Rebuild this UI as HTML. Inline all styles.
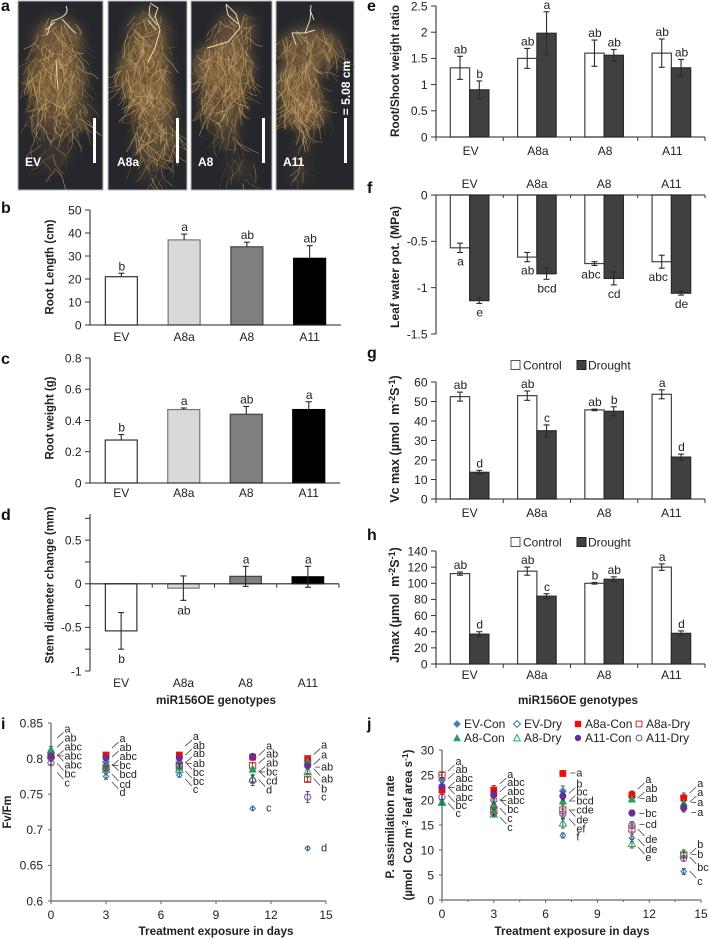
<!DOCTYPE html>
<html lang="en">
<head>
<meta charset="utf-8">
<title>miR156OE root and physiology figure</title>
<style>
html,body{margin:0;padding:0;background:#fff;}
svg{display:block;filter:blur(0.35px);}
text{font-family:"Liberation Sans",Arial,sans-serif;fill:#222;}
.tl{font-size:12px;}
.yt{font-size:11.5px;font-weight:bold;text-anchor:middle;}
.pl{font-size:16px;font-weight:bold;fill:#111;}
.ph{font-size:12px;font-weight:bold;fill:#fff;}
</style>
</head>
<body>
<svg id="fig" xmlns="http://www.w3.org/2000/svg" width="709" height="939" viewBox="0 0 709 939">
  <rect x="0" y="0" width="709" height="939" fill="#fff"/>
  <defs>
    <filter id="soft" x="-30%" y="-30%" width="160%" height="160%"><feGaussianBlur stdDeviation="6"/></filter>
    <clipPath id="cp0"><rect x="18" y="1" width="85" height="189"/></clipPath>
    <clipPath id="cp1"><rect x="108" y="1" width="79" height="189"/></clipPath>
    <clipPath id="cp2"><rect x="191" y="1" width="81" height="189"/></clipPath>
    <clipPath id="cp3"><rect x="276" y="1" width="78" height="189"/></clipPath>
  </defs>

  <g id="photos"></g>

  <text class="pl" x="1" y="11">a</text>
  <text class="pl" x="1" y="213">b</text>
  <text class="pl" x="1" y="364">c</text>
  <text class="pl" x="1" y="520">d</text>
  <text class="pl" x="367" y="11">e</text>
  <text class="pl" x="367" y="193">f</text>
  <text class="pl" x="367" y="358">g</text>
  <text class="pl" x="367" y="540">h</text>
  <text class="pl" x="1" y="729">i</text>
  <text class="pl" x="367" y="729">j</text>

  <text class="yt" textLength="95" lengthAdjust="spacingAndGlyphs" transform="translate(53.5,267) rotate(-90)">Root Length (cm)</text>
  <text class="yt" textLength="83" lengthAdjust="spacingAndGlyphs" transform="translate(53.5,418) rotate(-90)">Root weight (g)</text>
  <text class="yt" textLength="157" lengthAdjust="spacingAndGlyphs" transform="translate(53.5,585) rotate(-90)">Stem diameter change (mm)</text>
  <text class="yt" textLength="132" lengthAdjust="spacingAndGlyphs" transform="translate(399,71) rotate(-90)">Root/Shoot weight ratio</text>
  <text class="yt" textLength="122" lengthAdjust="spacingAndGlyphs" transform="translate(399,267) rotate(-90)">Leaf water pot. (MPa)</text>
  <text class="yt" style="font-size:12.5px" transform="translate(399,439) rotate(-90)">Vc max (µmol&#160;&#160;m<tspan dy="-4" font-size="9">-2</tspan><tspan dy="4">S</tspan><tspan dy="-4" font-size="9">-1</tspan><tspan dy="4">)</tspan></text>
  <text class="yt" style="font-size:12.5px" transform="translate(399,605) rotate(-90)">Jmax (µmol&#160;&#160;m<tspan dy="-4" font-size="9">-2</tspan><tspan dy="4">S</tspan><tspan dy="-4" font-size="9">-1</tspan><tspan dy="4">)</tspan></text>
  <text class="yt" textLength="33" lengthAdjust="spacingAndGlyphs" transform="translate(11,812) rotate(-90)">Fv/Fm</text>
  <text class="yt" textLength="103" lengthAdjust="spacingAndGlyphs" transform="translate(394,827) rotate(-90)">P. assimilation rate</text>
  <text class="yt" transform="translate(412,825) rotate(-90)">(µmol&#160;&#160;Co2 m<tspan dy="-4" font-size="8.5">-2</tspan><tspan dy="4"> leaf area s</tspan><tspan dy="-4" font-size="8.5">-1</tspan><tspan dy="4">)</tspan></text>

  <text class="yt" x="216" y="704" textLength="120" lengthAdjust="spacingAndGlyphs">miR156OE genotypes</text>
  <text class="yt" x="578" y="704" textLength="120" lengthAdjust="spacingAndGlyphs">miR156OE genotypes</text>
  <text class="yt" x="216" y="935" textLength="155" lengthAdjust="spacingAndGlyphs">Treatment exposure in days</text>
  <text class="yt" x="572" y="935" textLength="155" lengthAdjust="spacingAndGlyphs">Treatment exposure in days</text>

  <g id="charts"></g>
</svg>

<script>
/* ---------- bar chart data ---------- */
const categories = ['EV', 'A8a', 'A8', 'A11'];

const rootLength = [21, 37, 34, 29];
const rootLengthErr = [1.5, 2.5, 2, 5.5];
const rootLengthLetters = ['b', 'a', 'ab', 'ab'];
const rootLengthTicks = [0, 10, 20, 30, 40, 50];
const rootLengthTickLabels = ['0', '10', '20', '30', '40', '50'];

const rootWeight = [0.275, 0.47, 0.44, 0.47];
const rootWeightErr = [0.035, 0.01, 0.05, 0.05];
const rootWeightLetters = ['b', 'a', 'ab', 'a'];
const rootWeightTicks = [0, 0.2, 0.4, 0.6, 0.8];
const rootWeightTickLabels = ['0', '0.2', '0.4', '0.6', '0.8'];

const stemChange = [-0.54, -0.05, 0.085, 0.08];
const stemChangeErr = [0.21, 0.14, 0.115, 0.12];
const stemChangeLetters = ['b', 'ab', 'a', 'a'];
const stemTicks = [-1, -0.75, -0.5, -0.25, 0, 0.25, 0.5, 0.75];
const stemTickLabels = ['-1', '', '-0.5', '', '0', '', '0.5', ''];

const ratioControl = [1.32, 1.5, 1.6, 1.6];
const ratioControlErr = [0.22, 0.19, 0.25, 0.27];
const ratioControlLetters = ['ab', 'ab', 'ab', 'ab'];
const ratioDrought = [0.9, 1.98, 1.56, 1.32];
const ratioDroughtErr = [0.17, 0.41, 0.11, 0.16];
const ratioDroughtLetters = ['b', 'a', 'ab', 'ab'];
const ratioTicks = [0, 0.5, 1, 1.5, 2, 2.5];
const ratioTickLabels = ['0', '0.5', '1', '1.5', '2', '2.5'];

const waterControl = [-0.57, -0.67, -0.74, -0.72];
const waterControlErr = [0.05, 0.05, 0.02, 0.07];
const waterControlLetters = ['a', 'ab', 'abc', 'abc'];
const waterDrought = [-1.14, -0.85, -0.9, -1.06];
const waterDroughtErr = [0.03, 0.06, 0.07, 0.02];
const waterDroughtLetters = ['e', 'bcd', 'cd', 'de'];
const waterTicks = [-1.5, -1, -0.5, 0];
const waterTickLabels = ['-1.5', '-1', '-0.5', '0'];

const vcControl = [52.5, 53, 45.7, 53.7];
const vcControlErr = [2.3, 2.4, 0.4, 2.3];
const vcControlLetters = ['ab', 'ab', 'ab', 'a'];
const vcDrought = [13.7, 35, 45, 21.5];
const vcDroughtErr = [1, 3, 2.3, 1.5];
const vcDroughtLetters = ['d', 'c', 'b', 'd'];
const vcTicks = [0, 10, 20, 30, 40, 50, 60];
const vcTickLabels = ['0', '10', '20', '30', '40', '50', '60'];

const jmaxControl = [112, 115, 100, 120];
const jmaxControlErr = [2, 5, 1, 4];
const jmaxControlLetters = ['ab', 'ab', 'b', 'a'];
const jmaxDrought = [37, 84, 105, 38];
const jmaxDroughtErr = [3, 3, 3, 3];
const jmaxDroughtLetters = ['d', 'c', 'ab', 'd'];
const jmaxTicks = [0, 20, 40, 60, 80, 100, 120, 140];
const jmaxTickLabels = ['0', '20', '40', '60', '80', '100', '120', '140'];

/* ---------- scatter chart data ---------- */
const days = [0, 3, 7, 11, 14];
const dayTicks = [0, 3, 6, 9, 12, 15];
const seriesNames = ['EV-Con', 'EV-Dry', 'A8a-Con', 'A8a-Dry', 'A8-Con', 'A8-Dry', 'A11-Con', 'A11-Dry'];

const fvEvCon  = [0.800, 0.795, 0.795, 0.801, 0.795];
const fvEvDry  = [0.802, 0.775, 0.777, 0.730, 0.674];
const fvA8aCon = [0.805, 0.805, 0.805, 0.802, 0.800];
const fvA8aDry = [0.804, 0.787, 0.790, 0.790, 0.771];
const fvA8Con  = [0.813, 0.790, 0.788, 0.785, 0.796];
const fvA8Dry  = [0.806, 0.785, 0.785, 0.772, 0.782];
const fvA11Con = [0.803, 0.801, 0.801, 0.803, 0.790];
const fvA11Dry = [0.794, 0.787, 0.790, 0.769, 0.746];
const fvEvConErr  = [0.003, 0.003, 0.003, 0.003, 0.003];
const fvEvDryErr  = [0.003, 0.004, 0.003, 0.002, 0.002];
const fvA8aConErr = [0.003, 0.002, 0.002, 0.003, 0.002];
const fvA8aDryErr = [0.003, 0.003, 0.003, 0.004, 0.003];
const fvA8ConErr  = [0.004, 0.003, 0.003, 0.003, 0.002];
const fvA8DryErr  = [0.003, 0.004, 0.004, 0.006, 0.003];
const fvA11ConErr = [0.003, 0.003, 0.003, 0.003, 0.003];
const fvA11DryErr = [0.003, 0.004, 0.004, 0.007, 0.008];
const fvTicks = [0.6, 0.65, 0.7, 0.75, 0.8, 0.85];
const fvTickLabels = ['0.6', '0.65', '0.7', '0.75', '0.8', '0.85'];
const fvLetters = [
  ['a', 'ab', 'abc', 'abc', 'abc', 'bc', 'c'],
  ['a', 'ab', 'abc', 'bc', 'bcd', 'cd', 'd'],
  ['a', 'ab', 'ab', 'ab', 'bc', 'bc', 'c'],
  ['a', 'ab', 'ab', 'bc', 'cd', 'd', 'c'],
  ['a', 'a', 'ab', 'ab', 'b', 'c', 'd']
];

const paEvCon  = [24, 18.5, 21.8, 20.6, 20.6];
const paEvDry  = [22.5, 17.5, 12.9, 12.4, 5.7];
const paA8aCon = [22, 22, 25.3, 21, 20.4];
const paA8aDry = [25, 17.8, 18, 14.2, 9];
const paA8Con  = [19.5, 19.2, 19.8, 20.2, 19.4];
const paA8Dry  = [19.6, 17.2, 15.4, 11.3, 9.4];
const paA11Con = [22.7, 21, 20.8, 17.4, 18.4];
const paA11Dry = [20.6, 20, 17.2, 15, 8.3];
const paEvConErr  = [0.5, 0.6, 1, 1, 0.8];
const paEvDryErr  = [0.6, 0.6, 0.5, 0.8, 0.6];
const paA8aConErr = [0.6, 0.9, 0.4, 0.8, 0.6];
const paA8aDryErr = [0.5, 0.7, 1, 1, 0.5];
const paA8ConErr  = [0.5, 0.6, 0.4, 0.4, 0.5];
const paA8DryErr  = [0.5, 0.5, 1, 0.9, 0.6];
const paA11ConErr = [0.5, 0.8, 0.8, 0.6, 0.8];
const paA11DryErr = [0.5, 0.7, 1, 0.7, 0.5];
const paTicks = [0, 5, 10, 15, 20, 25, 30];
const paTickLabels = ['0', '5', '10', '15', '20', '25', '30'];
const paLetters = [
  ['a', 'ab', 'abc', 'abc', 'abc', 'bc', 'c'],
  ['a', 'abc', 'abc', 'abc', 'bc', 'c', 'c'],
  ['a', 'b', 'bc', 'bcd', 'cde', 'de', 'ef', 'f'],
  ['a', 'ab', 'ab', 'bc', 'cd', 'de', 'de', 'e'],
  ['a', 'a', 'a', 'a', 'b', 'b', 'bc', 'c']
];

/* ---------- annotation layout (not data) ---------- */
const fvLabelOffsets = [[-21,-12,-3,6,15,24,33],[-17,-8,1,10,19,29,37],[-19,-10,-2,8,17,26,34],[-11,-3,6,15,24,33,51],[-14,-4,8,20,30,38,89]];
const fvLeaderDirs = ['uuufddd','uuufddd','uuufddd','uuufddn','uufddnn'];
const paLabelOffsets = [[-14,-6,3,12,22,30,38],[-16,-8,1,10,19,28,37],[-1,10,18,27,36,46,55,63],[-16,-7,3,18,29,44,54,62],[-14,-5,5,15,47,57,70,84]];
const paLeaderDirs = ['uuufddd','uuufddd','fuuffddn','uufffddd','uuffufdd'];
const markStyles = [
  {shape:'diamond', color:'#4a7ebb', open:false, size:1},
  {shape:'diamond', color:'#2e75b6', open:true, size:0.72},
  {shape:'square',  color:'#f20d0d', open:false, size:1},
  {shape:'square',  color:'#c0302c', open:true, size:1},
  {shape:'triangle',color:'#1ea25a', open:false, size:1},
  {shape:'triangle',color:'#2aa866', open:true, size:1},
  {shape:'circle',  color:'#6a2d91', open:false, size:1.05},
  {shape:'circle',  color:'#7a4aa6', open:true, size:1}
];
const NS = 'http://www.w3.org/2000/svg';
const charts = document.getElementById('charts');

function scale(d0, d1, r0, r1) {
  return function (v) { return r0 + (v - d0) * (r1 - r0) / (d1 - d0); };
}
function make(tag, parent, attrs) {
  const el = document.createElementNS(NS, tag);
  for (const k in attrs) el.setAttribute(k, attrs[k]);
  parent.appendChild(el);
  return el;
}
function label(parent, name, x, y, str, anchor, size, weight) {
  const t = make('text', parent, {x: x, y: y, 'text-anchor': anchor || 'middle', 'font-size': size || 12});
  if (weight) t.setAttribute('font-weight', weight);
  t.textContent = str;
  
  
  return t;
}
function stroke(parent, name, x1, y1, x2, y2, color, width) {
  const l = make('line', parent, {x1: x1, y1: y1, x2: x2, y2: y2, stroke: color || '#222', 'stroke-width': width || 1.1});
  
  
  return l;
}

/* ---------- bar panels ---------- */
function drawBars(c) {
  const g = make('g', charts, {});
  
  
  const y = scale(c.domain[0], c.domain[1], c.yBottom, c.yTop);
  const band = (c.x1 - c.x0) / categories.length;
  const zeroY = y(0);
  const pending = [];

  stroke(g, c.name + '-y-axis', c.x0, c.yTop, c.x0, c.yBottom, '#333', 1.1);
  c.ticks.forEach(function (t, i) {
    stroke(g, c.name + '-y-tick', c.x0 - 5, y(t), c.x0, y(t), '#333', 1);
    if (c.tickLabels[i]) label(g, c.name + '-y-tick-label', c.x0 - 8.5, y(t) + 4.3, c.tickLabels[i], 'end', 12);
  });

  c.series.forEach(function (s, si) {
    categories.forEach(function (cat, ci) {
      const center = c.x0 + band * (ci + 0.5);
      const left = c.series.length === 1 ? center - c.barW / 2 : center + (si - 1) * c.barW;
      const v = s.values[ci];
      const top = Math.min(y(v), zeroY);
      const h = Math.abs(y(v) - zeroY);
      const fill = Array.isArray(s.fill) ? s.fill[ci] : s.fill;
      const edge = Array.isArray(s.edge) ? s.edge[ci] : s.edge;
      const r = make('rect', g, {x: left, y: top, width: c.barW, height: h, fill: fill, stroke: edge, 'stroke-width': 1.2});
      
      

      const mid = left + c.barW / 2;
      const e = s.errs[ci];
      const hi = y(v + e);
      const lo = c.upperOnly ? y(v) : y(v - e);
      stroke(g, c.name + '-error-stem', mid, hi, mid, lo, '#2a2a2a', 1.1);
      stroke(g, c.name + '-error-cap', mid - 3, hi, mid + 3, hi, '#2a2a2a', 1.1);
      if (!c.upperOnly) stroke(g, c.name + '-error-cap', mid - 3, lo, mid + 3, lo, '#2a2a2a', 1.1);

      const below = c.lettersBelow || v < c.belowUnder;
      const ly = below ? lo + c.belowGap : hi - 3;
      const shift = (c.lettersBelow && si === 0 && s.letters[ci].length > 2) ? -3.5 : 0.5;
      pending.push([cat, mid + shift, ly, s.letters[ci]]);
    });
  });
  pending.forEach(function (p) {
    label(g, c.name + '-significance-' + p[0], p[1], p[2], p[3], 'middle', 12);
  });

  stroke(g, c.name + '-x-axis', c.x0, zeroY, c.x1, zeroY, '#222', 1.1);
  if (c.xTicks) {
    for (let i = 0; i <= categories.length; i++) {
      const tx = c.x0 + band * i;
      stroke(g, c.name + '-x-tick', tx, zeroY, tx, zeroY + (c.xTicks === 'up' ? 3 : 4), '#333', 1);
    }
  }
  categories.forEach(function (cat, ci) {
    label(g, c.name + '-category-' + cat, c.x0 + band * (ci + 0.5) + (c.catShift || 0), c.catY, cat, 'middle', 12);
  });
  if (c.legendY) {
    [['Control', '#fff', '#555', 511, 523], ['Drought', '#404040', '#222', 577, 588]].forEach(function (l) {
      const lg = make('g', g, {});
      
      
      make('rect', lg, {x: l[3], y: c.legendY - 4.5, width: 9, height: 9, fill: l[1], stroke: l[2], 'stroke-width': 1});
      label(lg, c.name + '-legend-text', l[4], c.legendY + 4.3, l[0], 'start', 12);
    });
  }
}

const singleFill = ['#fff', '#d9d9d9', '#7f7f7f', '#000'];
const singleEdge = ['#333', '#777', '#444', '#000'];

drawBars({name:'root-length', x0:90, x1:341, yTop:210, yBottom:325, domain:[0,50], ticks:rootLengthTicks, tickLabels:rootLengthTickLabels,
  barW:32, upperOnly:true, catY:341,
  series:[{key:'mean', values:rootLength, errs:rootLengthErr, letters:rootLengthLetters, fill:singleFill, edge:singleEdge}]});
drawBars({name:'root-weight', x0:90, x1:340, yTop:358, yBottom:483, domain:[0,0.8], ticks:rootWeightTicks, tickLabels:rootWeightTickLabels,
  barW:32, upperOnly:true, catY:497,
  series:[{key:'mean', values:rootWeight, errs:rootWeightErr, letters:rootWeightLetters, fill:singleFill, edge:singleEdge}]});
drawBars({name:'stem-diameter', x0:90, x1:339, yTop:514, yBottom:671, domain:[-1,0.8], ticks:stemTicks, tickLabels:stemTickLabels,
  barW:31.5, catY:687, xTicks:'down', belowUnder:0, belowGap:14,
  series:[{key:'mean', values:stemChange, errs:stemChangeErr, letters:stemChangeLetters, fill:singleFill, edge:singleEdge}]});

const pairControl = {fill:'#fff', edge:'#444'};
const pairDrought = {fill:'#404040', edge:'#2a2a2a'};
drawBars({name:'root-shoot', x0:436, x1:705, yTop:6, yBottom:137, domain:[0,2.5], ticks:ratioTicks, tickLabels:ratioTickLabels,
  barW:19.3, catY:155, catShift:1, xTicks:'down',
  series:[{key:'control', values:ratioControl, errs:ratioControlErr, letters:ratioControlLetters, fill:pairControl.fill, edge:pairControl.edge},
          {key:'drought', values:ratioDrought, errs:ratioDroughtErr, letters:ratioDroughtLetters, fill:pairDrought.fill, edge:pairDrought.edge}]});
drawBars({name:'leaf-water', x0:436, x1:705, yTop:195, yBottom:334, domain:[-1.5,0], ticks:waterTicks, tickLabels:waterTickLabels,
  barW:19.3, catY:188, xTicks:'up', lettersBelow:true, belowGap:13,
  series:[{key:'control', values:waterControl, errs:waterControlErr, letters:waterControlLetters, fill:pairControl.fill, edge:pairControl.edge},
          {key:'drought', values:waterDrought, errs:waterDroughtErr, letters:waterDroughtLetters, fill:pairDrought.fill, edge:pairDrought.edge}]});
drawBars({name:'vcmax', x0:436, x1:705, yTop:382, yBottom:499, domain:[0,60], ticks:vcTicks, tickLabels:vcTickLabels,
  barW:19.3, catY:517, xTicks:'down', legendY:365,
  series:[{key:'control', values:vcControl, errs:vcControlErr, letters:vcControlLetters, fill:pairControl.fill, edge:pairControl.edge},
          {key:'drought', values:vcDrought, errs:vcDroughtErr, letters:vcDroughtLetters, fill:pairDrought.fill, edge:pairDrought.edge}]});
drawBars({name:'jmax', x0:436, x1:705, yTop:551, yBottom:664, domain:[0,140], ticks:jmaxTicks, tickLabels:jmaxTickLabels,
  barW:19.3, catY:679, xTicks:'down', legendY:542,
  series:[{key:'control', values:jmaxControl, errs:jmaxControlErr, letters:jmaxControlLetters, fill:pairControl.fill, edge:pairControl.edge},
          {key:'drought', values:jmaxDrought, errs:jmaxDroughtErr, letters:jmaxDroughtLetters, fill:pairDrought.fill, edge:pairDrought.edge}]});

/* ---------- scatter panels ---------- */
function drawMark(parent, name, st, x, y, r) {
  let el;
  const common = {fill: st.open ? 'none' : st.color, stroke: st.color, 'stroke-width': st.open ? 1 : 0.6};
  if (st.shape === 'square') {
    el = make('rect', parent, Object.assign({x: x - r, y: y - r, width: 2 * r, height: 2 * r}, common));
  } else if (st.shape === 'circle') {
    el = make('circle', parent, Object.assign({cx: x, cy: y, r: r}, common));
  } else if (st.shape === 'diamond') {
    el = make('polygon', parent, Object.assign({points: x + ',' + (y - r - 0.5) + ' ' + (x + r + 0.5) + ',' + y + ' ' + x + ',' + (y + r + 0.5) + ' ' + (x - r - 0.5) + ',' + y}, common));
  } else {
    el = make('polygon', parent, Object.assign({points: x + ',' + (y - r - 0.5) + ' ' + (x + r + 0.5) + ',' + (y + r) + ' ' + (x - r - 0.5) + ',' + (y + r)}, common));
  }
  
  
  return el;
}

function drawScatter(c) {
  const g = make('g', charts, {});
  
  
  const x = scale(0, 15, c.x0, c.x1);
  const y = scale(c.domain[0], c.domain[1], c.yBottom, c.yTop);
  stroke(g, c.name + '-y-axis', c.x0, c.yTop, c.x0, c.yBottom, '#808080', 1.5);
  stroke(g, c.name + '-x-axis', c.x0, c.yBottom, c.x1, c.yBottom, '#808080', 1.5);
  c.yTicks.forEach(function (t, i) {
    stroke(g, c.name + '-y-tick', c.x0 - 3, y(t), c.x0, y(t), '#666', 1);
    label(g, c.name + '-y-tick-label', c.x0 - 8, y(t) + 4.3, c.yTickLabels[i], 'end', 12);
  });
  dayTicks.forEach(function (d) {
    stroke(g, c.name + '-x-tick', x(d), c.yBottom, x(d), c.yBottom + 3, '#666', 1);
    label(g, c.name + '-x-tick-label', x(d), c.yBottom + 18, String(d), 'middle', 12);
  });
  if (c.minorX) {
    for (let i = 0; i < dayTicks.length - 1; i++) {
      const d = (dayTicks[i] + dayTicks[i + 1]) / 2;
      stroke(g, c.name + '-x-minor-tick', x(d), c.yBottom, x(d), c.yBottom + 2, '#666', 1);
    }
  }
  c.values.forEach(function (vals, si) {
    const st = markStyles[si];
    days.forEach(function (d, di) {
      const px = x(d);
      const hi = y(vals[di] + c.errs[si][di]);
      const lo = y(vals[di] - c.errs[si][di]);
      stroke(g, c.name + '-error-stem', px, hi, px, lo, '#333', 0.8);
      stroke(g, c.name + '-error-cap', px - 2, hi, px + 2, hi, '#333', 0.8);
      stroke(g, c.name + '-error-cap', px - 2, lo, px + 2, lo, '#333', 0.8);
      drawMark(g, c.name + '-point-' + seriesNames[si] + '-day-' + d, st, px, y(vals[di]), c.r * st.size);
    });
  });
  days.forEach(function (d, di) {
    const px = x(d);
    let top = Infinity;
    c.values.forEach(function (vals) { top = Math.min(top, y(vals[di])); });
    c.letters[di].forEach(function (txt, li) {
      const ly = top + c.offsets[di][li];
      const dir = c.dirs[di][li];
      label(g, c.name + '-significance-day-' + d, px + 13.5, ly + 4, txt, 'start', 10.8);
      if (dir === 'u') stroke(g, c.name + '-leader', px + 6, ly + 10, px + 12.5, ly + 4, '#444', 0.8);
      if (dir === 'd') stroke(g, c.name + '-leader', px + 6, ly - 10, px + 12.5, ly - 3, '#444', 0.8);
      if (dir === 'f') stroke(g, c.name + '-leader', px + 7.5, ly + 0.5, px + 12.5, ly + 0.5, '#444', 0.8);
    });
  });
}

drawScatter({name:'fvfm', x0:51, x1:326, yTop:723, yBottom:901, domain:[0.6,0.85], yTicks:fvTicks, yTickLabels:fvTickLabels, r:3.1,
  values:[fvEvCon, fvEvDry, fvA8aCon, fvA8aDry, fvA8Con, fvA8Dry, fvA11Con, fvA11Dry],
  errs:[fvEvConErr, fvEvDryErr, fvA8aConErr, fvA8aDryErr, fvA8ConErr, fvA8DryErr, fvA11ConErr, fvA11DryErr],
  letters:fvLetters, offsets:fvLabelOffsets, dirs:fvLeaderDirs});
drawScatter({name:'assimilation', x0:442, x1:701, yTop:750, yBottom:900, domain:[0,30], yTicks:paTicks, yTickLabels:paTickLabels, r:3.1, minorX:true,
  values:[paEvCon, paEvDry, paA8aCon, paA8aDry, paA8Con, paA8Dry, paA11Con, paA11Dry],
  errs:[paEvConErr, paEvDryErr, paA8aConErr, paA8aDryErr, paA8ConErr, paA8DryErr, paA11ConErr, paA11DryErr],
  letters:paLetters, offsets:paLabelOffsets, dirs:paLeaderDirs});

/* legend for panel j */
const legendColumns = [457, 517, 578, 639];
const legendRows = [724, 738];
const legendOrder = [0, 1, 2, 3, 4, 5, 6, 7];
legendOrder.forEach(function (si) {
  const col = si % 4;
  const row = si < 4 ? 0 : 1;
  const lg = make('g', charts, {});
  
  
  drawMark(lg, 'legend-marker-' + seriesNames[si], markStyles[si], legendColumns[col], legendRows[row], 2.9);
  label(lg, 'legend-label-' + seriesNames[si], legendColumns[col] + 7, legendRows[row] + 4.2, seriesNames[si], 'start', 12);
});

/* ---------- panel a : root photographs (illustration, seeded texture) ---------- */
const photos = document.getElementById('photos');
const photoFrames = [[18,85,'EV',25,93],[108,79,'A8a',117,176],[191,81,'A8',198,262],[276,78,'A11',283,344]];
const photoMasses = [
  [[58,42,24,24,.8],[56,78,29,28,1],[60,112,30,22,.55],[54,150,16,20,.22]],
  [[148,36,20,26,.7],[144,72,25,30,1],[153,105,21,26,.85],[156,140,22,22,.6],[150,170,12,15,.2]],
  [[235,32,20,20,.6],[224,68,29,28,1],[222,104,21,22,.75],[228,135,12,15,.35],[240,170,14,14,.2]],
  [[310,48,30,20,.85],[298,82,20,26,1],[304,110,22,18,.85],[305,140,8,14,.25],[300,170,10,18,.2]]
];
const photoCrowns = [
  'M66,6 C70,14 62,18 52,21 L47,35 M62,19 L72,30 L76,33 M55,22 L46,30 M56,60 L58,90',
  'M150,3 L158,8 L155,16 L160,30 L155,48 L148,62 M150,5 L149,15 L157,25 M148,20 L156,30',
  'M226,4 L236,14 L240,28 L228,42 L207,48 M226,5 L228,15 L238,24',
  'M311,5 L310,20 L305,33 L292,33 L296,45 M305,33 L315,30 M310,10 L314,20'
];
const strandTones = ['#55422a','#7d6240','#a3824f','#c9a56c'];
let rngState = 1234567;
function rnd() {
  rngState = (rngState * 1664525 + 1013904223) >>> 0;
  return rngState / 4294967296;
}
photoFrames.forEach(function (f, pi) {
  const g = make('g', photos, {});
  
  
  make('rect', g, {x: f[0], y: 1, width: f[1], height: 189, fill: '#25272c', stroke: '#b8b8b8', 'stroke-width': 1});
  const inner = make('g', g, {'clip-path': 'url(#cp' + pi + ')'});
  photoMasses[pi].forEach(function (b) {
    make('ellipse', inner, {cx: b[0], cy: b[1], rx: b[2], ry: b[3], fill: '#8f7046', opacity: b[4] * 0.85, filter: 'url(#soft)'});
  });
  const dPaths = strandTones.map(function () { return ''; });
  photoMasses[pi].forEach(function (b) {
    const count = Math.round(b[2] * b[3] * b[4] * 0.24);
    for (let k = 0; k < count; k++) {
      const a = rnd() * 6.283, rr = Math.sqrt(rnd()) * 1.05;
      let px = b[0] + Math.cos(a) * rr * b[2], py = b[1] + Math.sin(a) * rr * b[3];
      let dir = 1.57 + (rnd() - 0.5) * 1.5;
      let d = 'M' + px.toFixed(1) + ',' + py.toFixed(1);
      const segs = 3 + Math.floor(rnd() * 4);
      for (let s = 0; s < segs; s++) {
        dir += (rnd() - 0.5) * 0.9;
        const len = 2.5 + rnd() * 3.5;
        px += Math.cos(dir) * len;
        py += Math.sin(dir) * len;
        d += 'L' + px.toFixed(1) + ',' + py.toFixed(1);
      }
      const tone = Math.min(3, Math.floor(rnd() * 3.6));
      dPaths[tone] += d;
    }
  });
  dPaths.forEach(function (d, ti) {
    make('path', inner, {d: d, fill: 'none', stroke: strandTones[ti], 'stroke-width': 0.65, opacity: 0.85});
  });
  make('path', inner, {d: photoCrowns[pi], fill: 'none', stroke: '#e9dcb8', 'stroke-width': 1, 'stroke-linejoin': 'round'});

  const bar = make('rect', g, {x: f[4], y: 118, width: 3, height: 45, fill: '#fff'});
  
  
  const name = make('text', g, {x: f[3], y: 166, class: 'ph'});
  name.textContent = f[2];
  
  
});
const scaleText = make('text', photos, {class: 'ph', 'text-anchor': 'middle', transform: 'translate(350,88) rotate(-90)'});
scaleText.textContent = '= 5.08 cm';


</script>
</body>
</html>
